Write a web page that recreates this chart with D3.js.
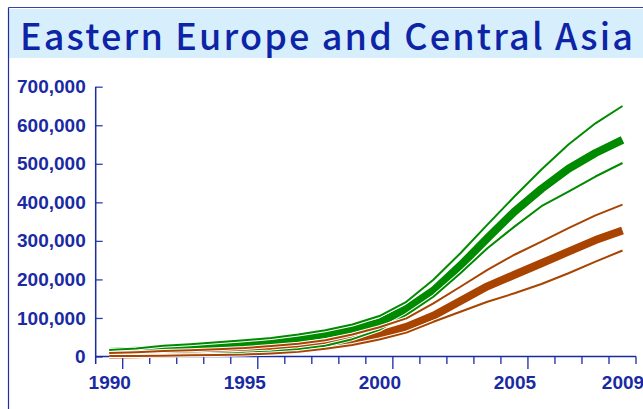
<!DOCTYPE html>
<html>
<head>
<meta charset="utf-8">
<script src="https://cdn.jsdelivr.net/npm/d3@7"></script>
<style>
html,body{margin:0;padding:0;background:#fff;overflow:hidden;}
svg{display:block;}
</style>
</head>
<body>
<svg id="chart" width="643" height="409"></svg>
<script>
// ---- data ----
const title = "Eastern Europe and Central Asia";
const years = [1990,1991,1992,1993,1994,1995,1996,1997,1998,1999,2000,2001,2002,2003,2004,2005,2006,2007,2008,2009];
const greenHigh = [17000,21000,28000,32000,37000,42000,48000,57000,68000,83000,105000,142000,199000,268000,342000,415000,485000,550000,605000,650000];
const greenMid  = [12000,15000,19000,22000,26000,31000,38000,47000,58000,71000,88000,123000,171000,236000,307000,376000,435000,487000,528000,562000];
const greenLow  = [2000,3000,4000,5000,7000,10000,13000,19000,28000,45000,69000,108000,155000,216000,281000,337000,390000,428000,467000,502000];
const brownHigh = [9000,11000,14000,16000,19000,22000,27000,33000,42000,57000,76000,99000,138000,181000,225000,264000,298000,333000,366000,394000];
const brownMid  = [5000,6000,8000,10000,12000,16000,20000,26000,33000,43000,56000,77000,106000,144000,182000,212000,242000,272000,302000,327000];
const brownLow  = [1000,1500,2000,3000,4000,5000,8000,12000,20000,30000,44000,62000,90000,116000,142000,164000,188000,216000,246000,275000];
const yTicks = [0,100000,200000,300000,400000,500000,600000,700000];
const xLabels = [1990,1995,2000,2005,2009];

// ---- layout ----
const svg = d3.select("#chart");
const blue = "#1a2aa2";
const green = "#008a00";
const brown = "#a84300";

// frame lines and title band
svg.append("rect").attr("x",9).attr("y",9).attr("width",634).attr("height",49).attr("fill","#d7effc");
svg.append("line").attr("x1",8.5).attr("x2",643).attr("y1",7.5).attr("y2",7.5).attr("stroke","#3343b0").attr("stroke-width",1.2);
svg.append("line").attr("x1",8.5).attr("x2",8.5).attr("y1",7.5).attr("y2",409).attr("stroke","#1f2fa0").attr("stroke-width",1.2);
svg.append("text").attr("x",20).attr("y",50)
  .attr("font-family","'Noto Sans CJK JP','Noto Sans',sans-serif")
  .attr("font-size",36).attr("font-weight",500).attr("fill","#0e24a6")
  .attr("textLength",613).attr("lengthAdjust","spacing")
  .text(title);

const x = d3.scaleBand().domain(years).range([95.7,636]).paddingInner(0).paddingOuter(0);
const y = d3.scaleLinear().domain([0,700000]).range([356.5,86.7]);
const cx = d => x(d) + x.bandwidth()/2;

const font = "'Liberation Sans',Arial,sans-serif";

// y axis
const yAxis = d3.axisLeft(y).tickValues(yTicks).tickSizeInner(-7).tickSizeOuter(0).tickPadding(10)
  .tickFormat(d3.format(","));
const gy = svg.append("g").attr("transform","translate(95.7,0)").call(yAxis);
gy.select(".domain").remove();
gy.selectAll(".tick line").attr("stroke","#3040b0").attr("stroke-width",1.3);
gy.selectAll(".tick text").attr("fill",blue).attr("font-family",font).attr("font-weight","bold").attr("font-size",19);
svg.append("line").attr("x1",95.7).attr("x2",95.7).attr("y1",y(700000)).attr("y2",y(0)+7.5)
  .attr("stroke",blue).attr("stroke-width",1.5);

// x axis (labels at category centres)
const xAxis = d3.axisBottom(d3.scalePoint().domain(years).range([cx(1990),cx(2009)]))
  .tickValues(xLabels).tickSize(0).tickPadding(19);
const gx = svg.append("g").attr("transform",`translate(0,${y(0)})`).call(xAxis);
gx.select(".domain").remove();
gx.selectAll(".tick text").attr("fill",blue).attr("font-family",font).attr("font-weight","bold").attr("font-size",19);
svg.append("line").attr("x1",95.7).attr("x2",636).attr("y1",y(0)).attr("y2",y(0))
  .attr("stroke",blue).attr("stroke-width",1.5);
svg.append("g").selectAll("line").data(years).join("line")
  .attr("x1",d=>x(d)+x.bandwidth()).attr("x2",d=>x(d)+x.bandwidth())
  .attr("y1",y(0)).attr("y2",d=>y(0)+(((d-1990)%5===0)?12.5:7.5))
  .attr("stroke",blue).attr("stroke-width",1.3);

// lines
const line = d3.line().x((d,i)=>cx(years[i])).y(d=>y(d));
const plot = svg.append("g");
function thick(vals,color){
  plot.append("path").attr("d",line(vals)).attr("fill","none").attr("stroke",color)
    .attr("stroke-width",8).attr("stroke-linejoin","round").attr("stroke-linecap","butt");
}
function thin(vals,color){
  plot.append("path").attr("d",line(vals)).attr("fill","none").attr("stroke","#fff")
    .attr("stroke-width",4).attr("stroke-linejoin","round").attr("stroke-linecap","butt");
  plot.append("path").attr("d",line(vals)).attr("fill","none").attr("stroke",color)
    .attr("stroke-width",2).attr("stroke-linejoin","round").attr("stroke-linecap","butt");
}
thick(greenMid,green);
thick(brownMid,brown);
thin(greenHigh,green);
thin(greenLow,green);
thin(brownHigh,brown);
thin(brownLow,brown);
</script>
</body>
</html>
